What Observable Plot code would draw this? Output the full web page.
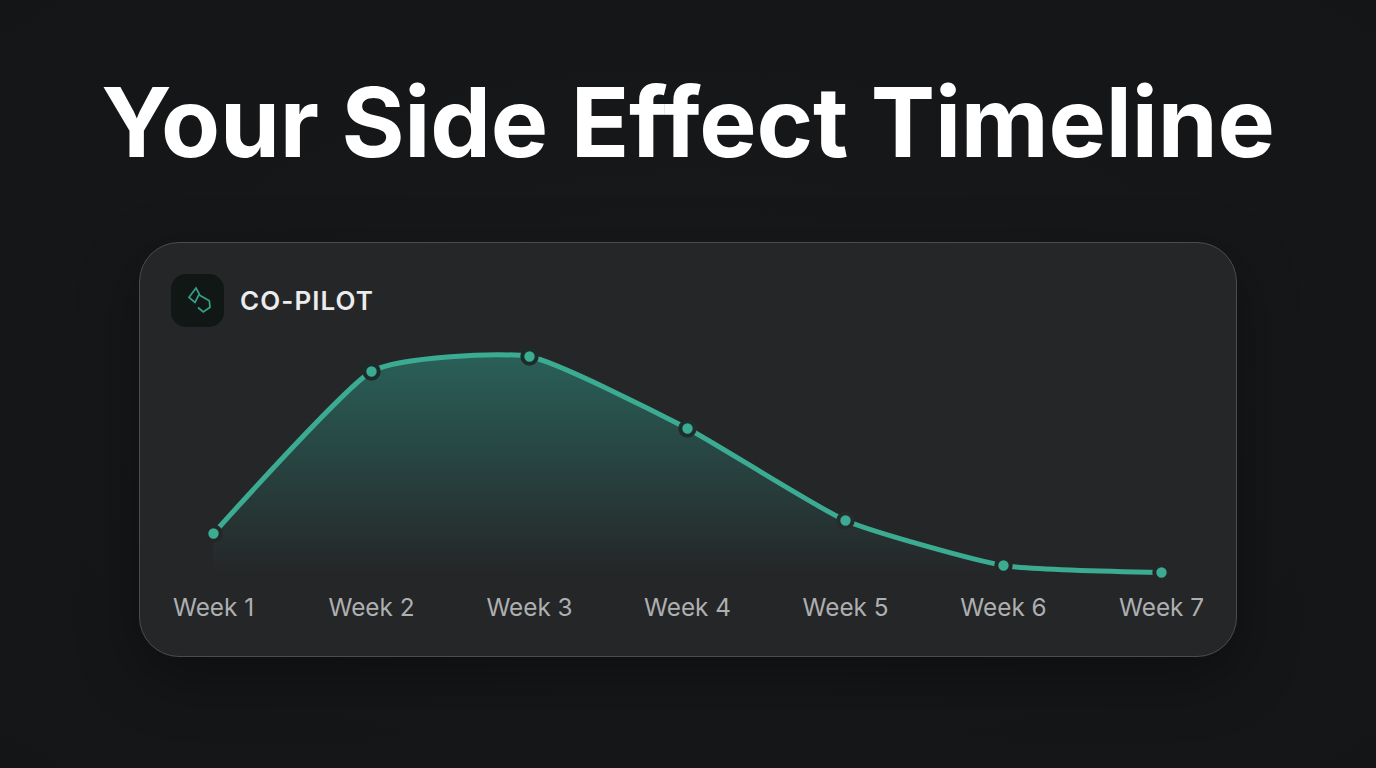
<!DOCTYPE html>
<html><head><meta charset="utf-8">
<script src="https://cdn.jsdelivr.net/npm/d3@7"></script>
<script src="https://cdn.jsdelivr.net/npm/@observablehq/plot@0.6"></script>
<style>
html,body{margin:0;padding:0;width:1376px;height:768px;overflow:hidden;background:#141517;font-family:Inter,sans-serif}
#page{position:relative;width:1376px;height:768px;background:radial-gradient(ellipse at 50% 50%,#18191b 0%,#141517 100%)}
h1{position:absolute;left:0;top:60px;width:1376px;margin:0;text-align:center;color:#fff;font:700 96.4px/124px Inter,sans-serif;letter-spacing:-.2px}
#card{position:absolute;left:139px;top:242px;width:1096px;height:413px;border:1.5px solid #4a4c4e;border-radius:40px;background:#252628;box-shadow:0 20px 60px rgba(0,0,0,.35)}
#chart{position:absolute;left:-1px;top:-1px}
#chart svg{display:block;overflow:visible}
#icon{position:absolute;left:31px;top:31px;width:53px;height:53px;border-radius:15px;background:#101715}
#icon svg{position:absolute;left:0;top:0}
#brand{position:absolute;left:100px;top:42px;color:#ececec;font:600 26px/32px Inter,sans-serif;letter-spacing:1.05px}
</style></head><body>
<div id="page">
<h1>Your Side Effect Timeline</h1>
<div id="card">
<div id="chart"></div>
<div id="icon"><svg width="53" height="53" viewBox="0 0 53 53" fill="none" stroke="#36a088" stroke-width="1.7"><path d="M25 14 L18 23.3 L24 28.3 L28.3 20 Z"/><path d="M28.3 21 L38.3 26.7 L39 33.3 L32.3 38 L27 33.5"/></svg></div>
<div id="brand">CO-PILOT</div>
</div>
</div>
<script>
const weeks = ["Week 1","Week 2","Week 3","Week 4","Week 5","Week 6","Week 7"];
const severity = [22.8,87.6,93.6,64.8,28,10,7.2];
const ringColors = ["#252628","#1d2b2a","#1d2b2a","#1e2e2c","#262b2b","#252628","#252628"];
const rows = weeks.map((week,i)=>({week,severity:severity[i],ring:ringColors[i]}));
const teal = "#3bab92";
const wash = "#2fa391";
const curve = "cardinal", tension = 0.5;
const gradient = () => {
  const s = d3.create("svg:defs");
  const g = s.append("linearGradient").attr("id","fade").attr("x1",0).attr("y1",0).attr("x2",0).attr("y2",1);
  g.append("stop").attr("offset","0%").attr("stop-color",wash).attr("stop-opacity",.46);
  g.append("stop").attr("offset","93%").attr("stop-color",wash).attr("stop-opacity",0);
  return s.node();
};
const chart = Plot.plot({
  width:1097,height:415,
  marginLeft:72.5,marginRight:74,marginTop:98,marginBottom:67,
  style:{background:"transparent",overflow:"visible"},
  x:{type:"point",domain:weeks,label:null,padding:0},
  y:{domain:[0,100],axis:null},
  marks:[
    gradient,
    Plot.areaY(rows,{x:"week",y:"severity",curve,tension,fill:"url(#fade)"}),
    Plot.lineY(rows,{x:"week",y:"severity",curve,tension,stroke:teal,strokeWidth:5}),
    Plot.dot(rows,{x:"week",y:"severity",r:7.2,fill:teal,stroke:"ring",strokeWidth:4}),
    Plot.axisX({domain:weeks,tickSize:0,tickPadding:8,label:null,fontSize:24.3,fill:"#aeafb0",anchor:"bottom",fontWeight:400,fontFamily:"Inter, sans-serif"})
  ]
});
document.getElementById("chart").append(chart);
</script>
</body></html>
